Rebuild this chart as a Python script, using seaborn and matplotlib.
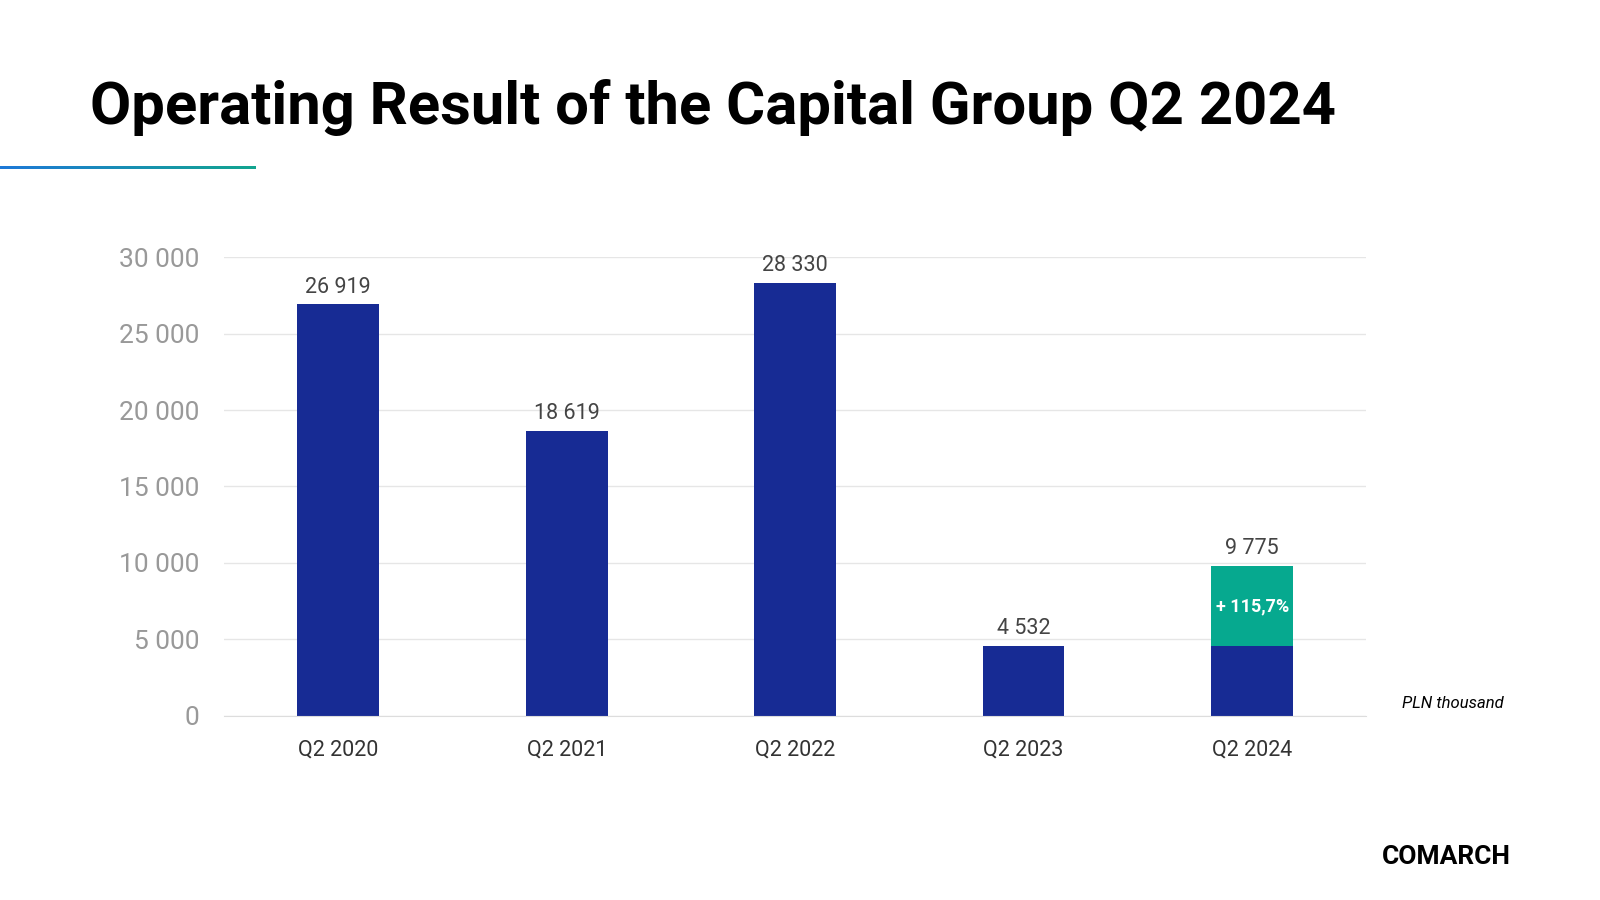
import matplotlib
matplotlib.use("Agg")
import matplotlib.pyplot as plt
import seaborn as sns
import numpy as np
import pandas as pd
from matplotlib.colors import LinearSegmentedColormap

categories = ["Q2 2020", "Q2 2021", "Q2 2022", "Q2 2023", "Q2 2024"]
values = [26919, 18619, 28330, 4532, 9775]
base_2024 = 4532
labels = ["26 919", "18 619", "28 330", "4 532", "9 775"]
growth_label = "+ 115,7%"
yticks = [0, 5000, 10000, 15000, 20000, 25000, 30000]
ytick_labels = ["0", "5 000", "10 000", "15 000", "20 000", "25 000", "30 000"]

navy = "#172B94"
green = "#06A98F"

fig = plt.figure(figsize=(16, 9), dpi=100)
ax = fig.add_axes([0.140, 0.205, 0.714, 0.509])

df = pd.DataFrame({"cat": categories, "val": values})
sns.barplot(data=df, x="cat", y="val", color=green, width=0.357, ax=ax, saturation=1)
base = pd.DataFrame({"cat": categories, "val": values[:4] + [base_2024]})
sns.barplot(data=base, x="cat", y="val", color=navy, width=0.357, ax=ax, saturation=1)

ax.set_xlim(-0.5, 4.5)
ax.set_ylim(0, 30000)
ax.set_yticks(yticks)
ax.set_yticklabels(ytick_labels, fontsize=19, color="#999999", family="Roboto")
ax.set_xticks(range(5))
ax.set_xticklabels(categories, fontsize=15.5, color="#333333", family="Roboto")
ax.tick_params(length=0, axis="both")
ax.tick_params(axis="y", pad=18)
ax.tick_params(axis="x", pad=17)
ax.set_xlabel("")
ax.set_ylabel("")
ax.yaxis.grid(True, color="#E6E6E6", linewidth=1)
ax.set_axisbelow(True)
for s in ["top", "right", "left"]:
    ax.spines[s].set_visible(False)
ax.spines["bottom"].set_color("#DDDDDD")

for i, (v, l) in enumerate(zip(values, labels)):
    ax.text(i, v + 450, l, ha="center", va="bottom", fontsize=15.5, color="#444444", family="Roboto")
ax.text(4, (base_2024 + values[4]) / 2, growth_label, ha="center", va="center",
        fontsize=13, color="white", fontweight="bold", family="Roboto")

fig.text(0.056, 0.880, "Operating Result of the Capital Group Q2 2024", fontsize=43,
         fontweight="bold", family="Roboto", va="center")
lax = fig.add_axes([0, 0.812, 0.16, 0.004])
grad = np.linspace(0, 1, 256).reshape(1, -1)
cmap = LinearSegmentedColormap.from_list("g", ["#1E78D8", "#12A58F"])
lax.imshow(grad, aspect="auto", cmap=cmap)
lax.axis("off")

fig.text(0.876, 0.218, "PLN thousand", fontsize=12, style="italic", family="Roboto", va="center")
fig.text(0.944, 0.048, "COMARCH", fontsize=19, fontweight="bold", family="Roboto", ha="right", va="center")

fig.savefig("out.png", dpi=100, facecolor="white")
